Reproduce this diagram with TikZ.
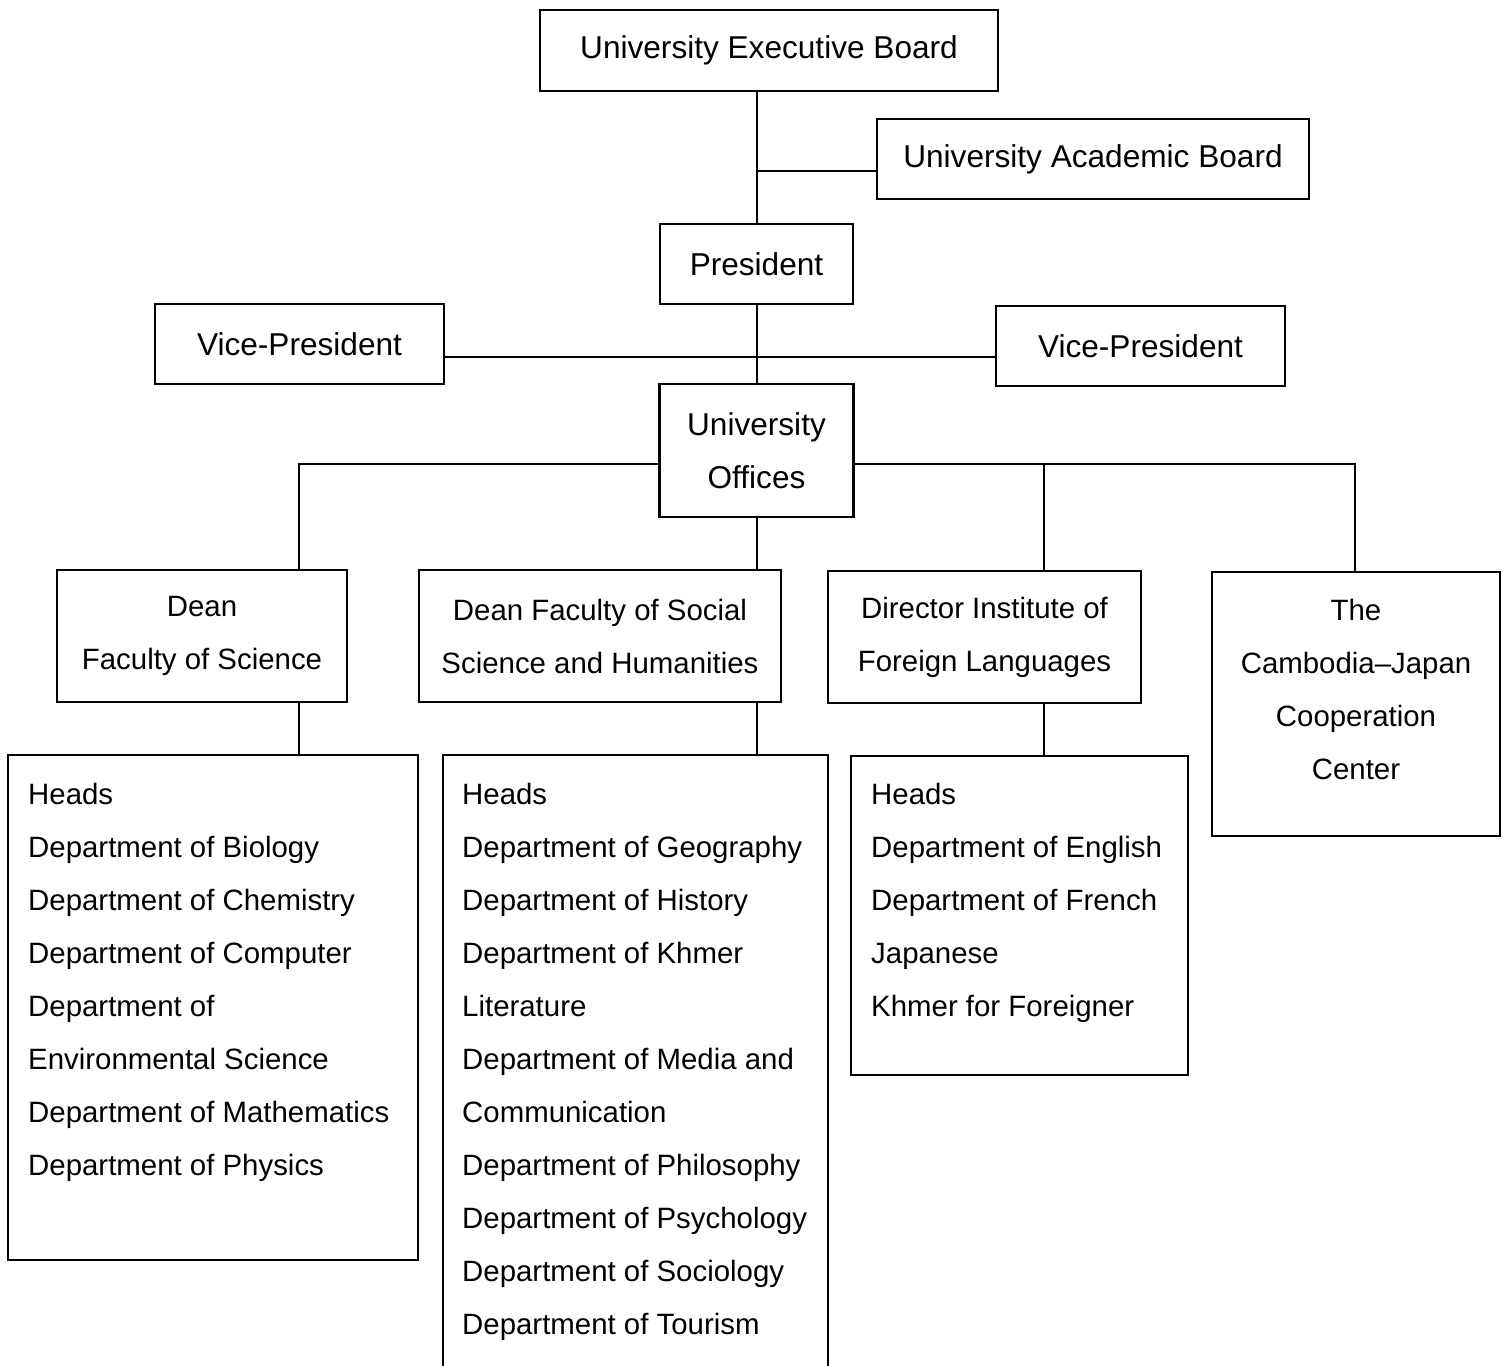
\documentclass[tikz,border=0pt]{standalone}
\usepackage{fontspec}
\setmainfont{Liberation Sans}
\begin{document}
\begin{tikzpicture}[x=0.5pt,y=-0.5pt,
  box/.style={draw, line width=1.2pt, inner sep=0pt, align=center, font=\fontsize{15.8}{26.5}\selectfont},
  smallbox/.style={box, font=\fontsize{14.7}{26.5}\selectfont},
  listtext/.style={inner sep=0pt, align=left, anchor=north west, font=\fontsize{14.7}{26.5}\selectfont},
  line/.style={line width=1pt}]

\useasboundingbox (0,0) rectangle (1504,1365);
\clip (0,0) rectangle (1504,1365);

%Leitung
\node[box, minimum width=229pt, minimum height=40.5pt] (exec) at (769,50.5) {University Executive Board};
\node[box, minimum width=216pt, minimum height=40pt] (acad) at (1093,159) {University Academic Board};
\node[box, minimum width=96.5pt, minimum height=40pt] (pres) at (756.5,264) {President};
\node[box, minimum width=144.5pt, minimum height=40pt] (vpl) at (299.5,344) {Vice-President};
\node[box, minimum width=144.5pt, minimum height=40pt] (vpr) at (1140.5,346) {Vice-President};
\node[box, minimum width=97pt, minimum height=66.5pt] (offices) at (756.5,450.5) {University\\Offices};

%Fakultaeten
\node[smallbox, minimum width=145pt, minimum height=66pt] (deansci) at (202,636) {Dean\\Faculty of Science};
\node[smallbox, minimum width=181pt, minimum height=66pt] (deansoc) at (600,636) {Dean Faculty of Social\\Science and Humanities};
\node[smallbox, minimum width=156.5pt, minimum height=66pt] (dirifl) at (984.5,637) {Director Institute of\\Foreign Languages};
\node[box, minimum width=144pt, minimum height=132pt] (cjc) at (1356,704) {};
\node[listtext, align=center, anchor=north] (cjctext) at ([yshift=-14pt]cjc.north) {The\\Cambodia--Japan\\Cooperation\\Center};

%Abteilungen
\node[box, minimum width=205pt, minimum height=252.5pt] (scilist) at (213,1007.5) {};
\node[box, minimum width=192.5pt, minimum height=332.5pt] (soclist) at (635.5,1087.5) {};
\node[box, minimum width=168.5pt, minimum height=159.5pt] (ifllist) at (1019.5,915.5) {};

\node[listtext] (scitext) at ([xshift=10.5pt,yshift=-14.7pt]scilist.north west) {Heads\\Department of Biology\\Department of Chemistry\\Department of Computer\\Department of\\Environmental Science\\Department of Mathematics\\Department of Physics};
\node[listtext] (soctext) at ([xshift=10pt,yshift=-14.7pt]soclist.north west) {Heads\\Department of Geography\\Department of History\\Department of Khmer\\Literature\\Department of Media and\\Communication\\Department of Philosophy\\Department of Psychology\\Department of Sociology\\Department of Tourism};
\node[listtext] (ifltext) at ([xshift=10.5pt,yshift=-14.2pt]ifllist.north west) {Heads\\Department of English\\Department of French\\Japanese\\Khmer for Foreigner};

%Verbindungen
\coordinate (jl) at (299,464);
\coordinate (jd) at (1044,464);
\coordinate (jr) at (1355,464);

\draw[line] (pres.north) -- (pres.north |- exec.south);
\draw[line] ([yshift=-6pt]acad.west) -- ([yshift=-6pt]acad.west -| pres.north);
\draw[line] ([yshift=-6.5pt]vpl.east) -- ([yshift=-6.5pt]vpl.east -| vpr.west);
\draw[line] (pres.south) -- (offices.north);

\draw[line] (offices.west |- jl) -- (jl) -- (jl |- deansci.north);
\draw[line] (offices.east |- jr) -- (jr) -- (jr |- cjc.north);
\draw[line] (jd) -- (jd |- dirifl.north);
\draw[line] (offices.south) -- (offices.south |- deansoc.north);

\draw[line] (jl |- deansci.south) -- (jl |- scilist.north);
\draw[line] (offices.south |- deansoc.south) -- (offices.south |- soclist.north);
\draw[line] (jd |- dirifl.south) -- (jd |- ifllist.north);

\end{tikzpicture}
\end{document}
